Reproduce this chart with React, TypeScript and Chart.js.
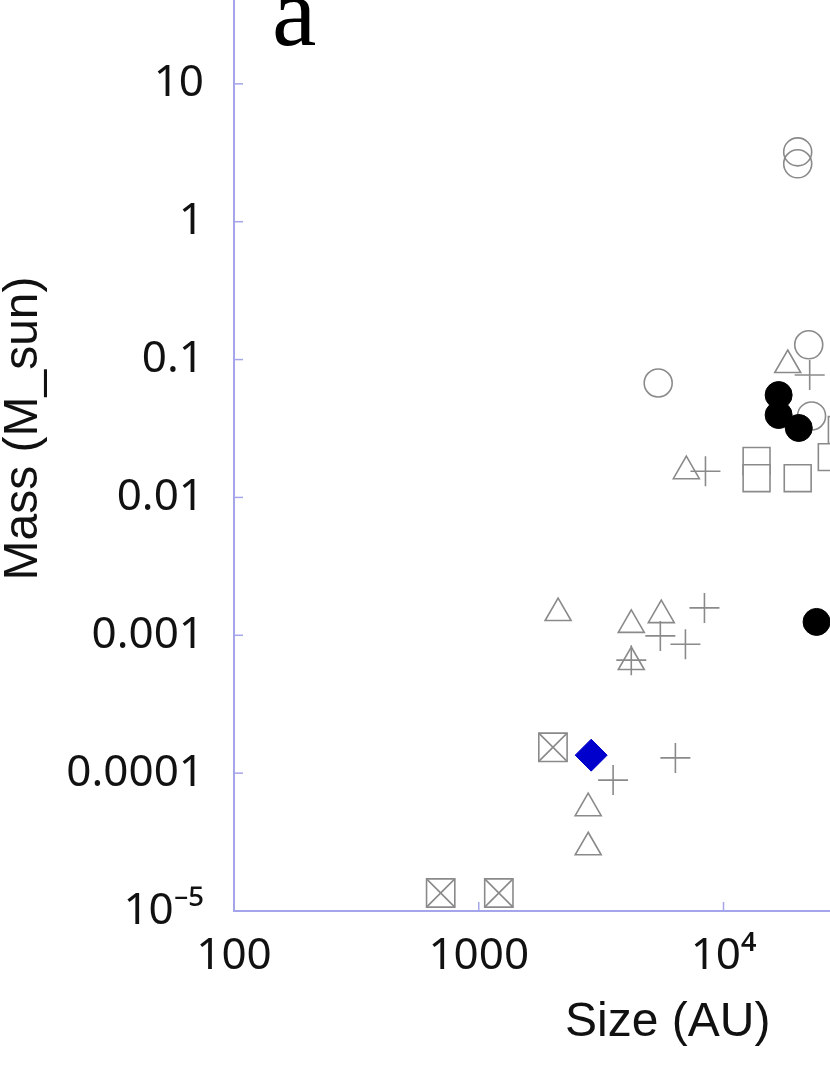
import React, { useEffect, useRef } from 'react';
import { Chart, registerables } from 'chart.js';

Chart.register(...registerables);

// ---------- data ----------
const openCircleX = [5410, 20100, 20100, 22300, 22900];
const openCircleY = [0.0676, 3.21, 2.63, 0.128, 0.039];

const filledCircleX = [16800, 16800, 20300, 24000];
const filledCircleY = [0.0553, 0.0396, 0.0319, 0.00125];

const triangleX = [18300, 7050, 2110, 4200, 5570, 4200, 2800, 2800];
const triangleY = [0.0913, 0.0155, 0.00145, 0.00119, 0.0014, 0.00064, 0.0000557, 0.000029];

const plusX = [22500, 8440, 8360, 5520, 6990, 4200, 6360, 3540];
const plusY = [0.0773, 0.0155, 0.00158, 0.00099, 0.00086, 0.00066, 0.000129, 0.000089];

const squareX = [13650, 13650, 20100, 30450, 27700];
const squareY = [0.0184, 0.0138, 0.0138, 0.0308, 0.0196];

const boxCrossX = [2010, 699, 1208];
const boxCrossY = [0.000154, 0.0000135, 0.0000135];

const diamondX = [2880];
const diamondY = [0.000135];

const xTickValues = [100, 1000, 10000];
const xTickLabels = ['100', '1000', '10\u2074'];
const yTickValues = [0.00001, 0.0001, 0.001, 0.01, 0.1, 1, 10];
const yTickLabels = ['10\u207B\u2075', '0.0001', '0.001', '0.01', '0.1', '1', '10'];

const xMin = 100;
const xMax = 350000;
const yMin = 0.00001;
const yMax = 100;

const panelLabel = 'a';
const xTitle = 'Size (AU)';
const yTitle = 'Mass (M_sun)';

// ---------- styling ----------
const GRAY = '#8a8a8a';
const AXIS = 'rgb(165,165,235)';
const CANVAS_W = 1123;
const CANVAS_H = 1171;
const CANVAS_TOP = -124;

const pts = (xs: number[], ys: number[]) => xs.map((x, i) => ({ x, y: ys[i] }));

const decor = {
  id: 'decor',
  beforeDatasetsDraw(chart: any) {
    const { ctx, chartArea, scales } = chart;
    ctx.save();
    ctx.strokeStyle = AXIS;
    ctx.lineWidth = 1.5;
    scales.x.ticks.forEach((t: any) => {
      const px = scales.x.getPixelForValue(t.value);
      ctx.beginPath();
      ctx.moveTo(px, chartArea.bottom);
      ctx.lineTo(px, chartArea.bottom - 9);
      ctx.stroke();
    });
    scales.y.ticks.forEach((t: any) => {
      const py = scales.y.getPixelForValue(t.value);
      ctx.beginPath();
      ctx.moveTo(chartArea.left, py);
      ctx.lineTo(chartArea.left + 9, py);
      ctx.stroke();
    });
    ctx.fillStyle = '#000';
    ctx.font = '100px "Liberation Serif", "Times New Roman", serif';
    ctx.textBaseline = 'alphabetic';
    ctx.textAlign = 'left';
    ctx.fillText(panelLabel, chartArea.left + 38, chartArea.top + 99);
    ctx.restore();
  },
};

export default function App() {
  const ref = useRef<HTMLCanvasElement>(null);

  useEffect(() => {
    if (!ref.current) return;
    const tickFont = { family: '"Noto Sans", sans-serif', size: 44 };
    const titleFont = { family: '"Liberation Sans", Arial, sans-serif', size: 48, lineHeight: 1 };
    const chart = new Chart(ref.current, {
      type: 'scatter',
      data: {
        datasets: [
          {
            label: 'diamond',
            data: pts(diamondX, diamondY),
            pointStyle: 'rectRot',
            pointRadius: 16,
            backgroundColor: '#0000cc',
            borderColor: '#0000cc',
            borderWidth: 1,
          },
          {
            label: 'filled circles',
            data: pts(filledCircleX, filledCircleY),
            pointStyle: 'circle',
            pointRadius: 13.5,
            backgroundColor: '#000',
            borderColor: '#000',
            borderWidth: 1,
          },
          {
            label: 'plus',
            data: pts(plusX, plusY),
            pointStyle: 'cross',
            pointRadius: 15,
            backgroundColor: 'rgba(0,0,0,0)',
            borderColor: GRAY,
            borderWidth: 1.6,
          },
          {
            label: 'box cross X',
            data: pts(boxCrossX, boxCrossY),
            pointStyle: 'crossRot',
            pointRadius: 20,
            backgroundColor: 'rgba(0,0,0,0)',
            borderColor: GRAY,
            borderWidth: 1.6,
          },
          {
            label: 'box cross box',
            data: pts(boxCrossX, boxCrossY),
            pointStyle: 'rect',
            pointRadius: 20,
            backgroundColor: 'rgba(0,0,0,0)',
            borderColor: GRAY,
            borderWidth: 1.6,
          },
          {
            label: 'triangles',
            data: pts(triangleX, triangleY),
            pointStyle: 'triangle',
            pointRadius: 15,
            backgroundColor: 'rgba(0,0,0,0)',
            borderColor: GRAY,
            borderWidth: 1.6,
          },
          {
            label: 'squares',
            data: pts(squareX, squareY),
            pointStyle: 'rect',
            pointRadius: 19,
            backgroundColor: '#fff',
            borderColor: GRAY,
            borderWidth: 1.6,
          },
          {
            label: 'open circles',
            data: pts(openCircleX, openCircleY),
            pointStyle: 'circle',
            pointRadius: 14,
            backgroundColor: 'rgba(0,0,0,0)',
            borderColor: GRAY,
            borderWidth: 1.6,
          },
        ],
      },
      options: {
        responsive: false,
        animation: false,
        devicePixelRatio: 1,
        layout: { padding: { top: 70, right: 2, bottom: 0, left: 0 } },
        plugins: {
          legend: { display: false },
          tooltip: { enabled: false },
        },
        scales: {
          x: {
            type: 'logarithmic',
            position: 'bottom',
            min: xMin,
            max: xMax,
            afterBuildTicks: (s: any) => {
              s.ticks = xTickValues.map((v) => ({ value: v }));
            },
            afterFit: (s: any) => {
              s.height = 136;
              s.paddingLeft = 0;
              s.paddingRight = 0;
            },
            ticks: {
              autoSkip: false,
              maxRotation: 0,
              padding: 19,
              color: '#111',
              font: tickFont,
              callback: (_v: any, i: number) => xTickLabels[i],
            },
            grid: { display: false, drawTicks: false },
            border: { display: true, color: AXIS, width: 2 },
            title: { display: true, text: xTitle, color: '#111', font: titleFont, padding: 0 },
          },
          y: {
            type: 'logarithmic',
            position: 'left',
            min: yMin,
            max: yMax,
            afterBuildTicks: (s: any) => {
              s.ticks = yTickValues.map((v) => ({ value: v }));
            },
            afterFit: (s: any) => {
              s.width = 234;
            },
            ticks: {
              autoSkip: false,
              padding: 30,
              color: '#111',
              font: tickFont,
              callback: (_v: any, i: number) => yTickLabels[i],
            },
            grid: { display: false, drawTicks: false },
            border: { display: true, color: AXIS, width: 2 },
            title: { display: true, text: yTitle, color: '#111', font: titleFont, padding: 0 },
          },
        },
      },
      plugins: [decor],
    } as any);
    return () => chart.destroy();
  }, []);

  return (
    <div
      style={{
        position: 'fixed',
        left: 0,
        top: 0,
        width: 830,
        height: 1075,
        overflow: 'hidden',
        background: '#fff',
      }}
    >
      <canvas
        ref={ref}
        width={CANVAS_W}
        height={CANVAS_H}
        style={{ position: 'absolute', left: 0, top: CANVAS_TOP, width: CANVAS_W, height: CANVAS_H }}
      />
    </div>
  );
}
